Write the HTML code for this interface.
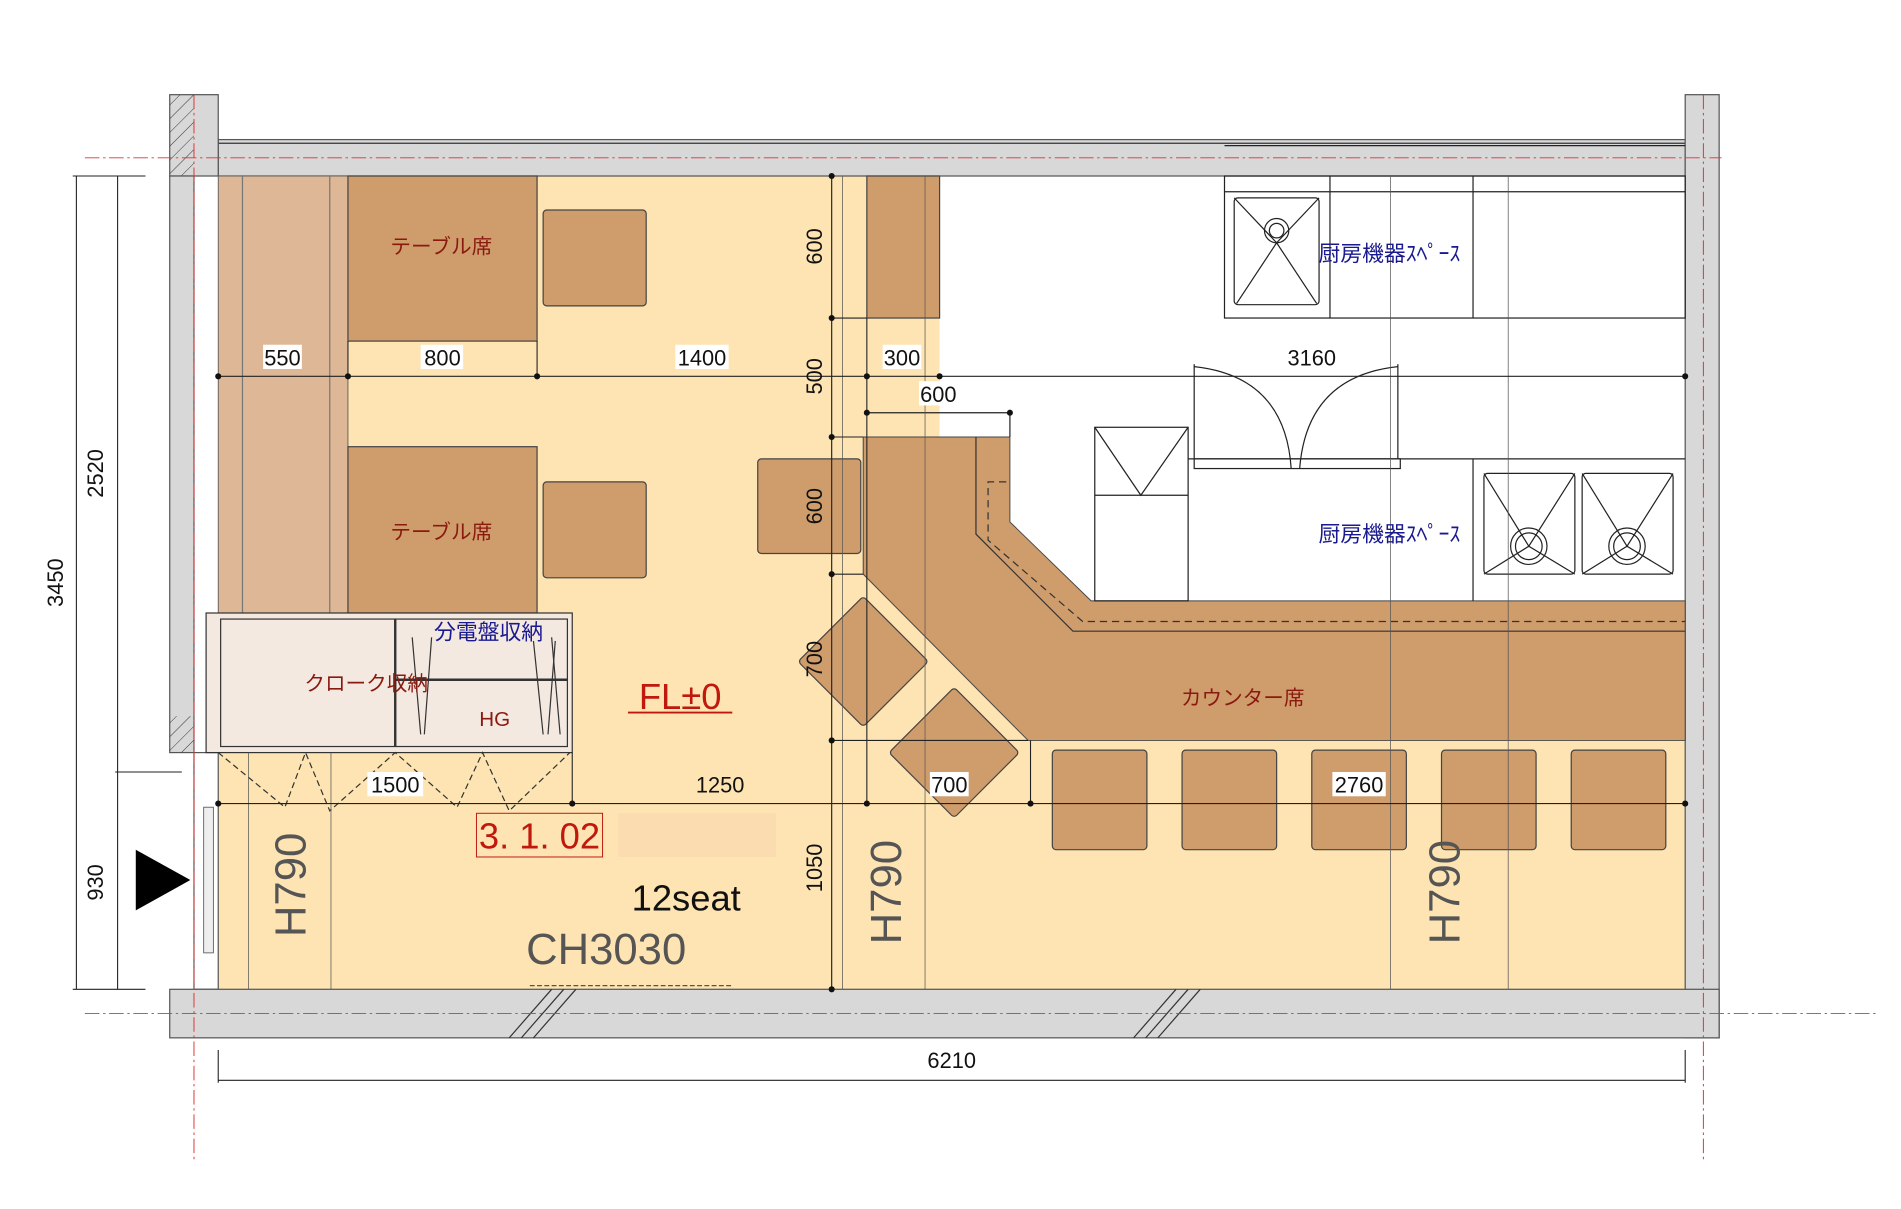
<!DOCTYPE html>
<html><head><meta charset="utf-8"><style>
html,body{margin:0;padding:0;background:#fff;}
svg{display:block;}
text{font-family:"Liberation Sans","Noto Sans CJK JP",sans-serif;}
</style></head><body>
<svg width="1901" height="1209" viewBox="0 0 1568 996" preserveAspectRatio="none" xmlns="http://www.w3.org/2000/svg">
<defs>
<pattern id="h" width="8" height="8" patternUnits="userSpaceOnUse" patternTransform="rotate(45)">
<line x1="0" y1="0" x2="0" y2="8" stroke="#333" stroke-width="0.8"/></pattern>
</defs>
<rect width="1568" height="996" fill="#fff"/>
<rect x="180" y="145" width="1210" height="670" fill="#fde4b2"/>
<polygon points="775,145 1390,145 1390,495 900,495 833,430 833,360 775,360" fill="#fff"/>
<rect x="180" y="115" width="1210" height="30" fill="#d8d8d8" stroke="#555" stroke-width="1"/>
<line x1="180" y1="118" x2="1390" y2="118" stroke="#333"/>
<rect x="140" y="78" width="40" height="67" fill="#d8d8d8" stroke="#555"/>
<rect x="140" y="78" width="20" height="67" fill="url(#h)"/>
<rect x="140" y="145" width="20" height="475" fill="#d8d8d8" stroke="#555"/>
<rect x="140" y="590" width="20" height="30" fill="url(#h)"/>
<rect x="160" y="620" width="20" height="195" fill="#fff" stroke="#555"/>
<rect x="168" y="665" width="8" height="120" fill="#eee" stroke="#555" stroke-width="0.7"/>
<rect x="1390" y="78" width="28" height="777" fill="#d8d8d8" stroke="#555"/>
<rect x="140" y="815" width="1278" height="40" fill="#d8d8d8" stroke="#555"/>
<line x1="420" y1="855" x2="455" y2="815" stroke="#333"/><line x1="430" y1="855" x2="465" y2="815" stroke="#333"/><line x1="440" y1="855" x2="475" y2="815" stroke="#333"/>
<line x1="935" y1="855" x2="970" y2="815" stroke="#333"/><line x1="945" y1="855" x2="980" y2="815" stroke="#333"/><line x1="955" y1="855" x2="990" y2="815" stroke="#333"/>
<g stroke="#d33" stroke-width="0.8" stroke-dasharray="12,3,2,3">
<line x1="70" y1="130" x2="1420" y2="130"/><line x1="70" y1="835" x2="1550" y2="835"/>
<line x1="160" y1="78" x2="160" y2="955"/><line x1="1405" y1="78" x2="1405" y2="955"/>
</g>
<rect x="180" y="145" width="107" height="360" fill="#ddb796" stroke="#555" stroke-width="0.7"/>
<line x1="200" y1="145" x2="200" y2="505" stroke="#777"/><line x1="272" y1="145" x2="272" y2="505" stroke="#777"/>
<g fill="#cf9c6c" stroke="#444" stroke-width="1">
<rect x="287" y="145" width="156" height="136"/><rect x="287" y="368" width="156" height="137"/>
<rect x="448" y="173" width="85" height="79" rx="3"/><rect x="448" y="397" width="85" height="79" rx="3"/>
<rect x="625" y="378" width="85" height="78" rx="3"/>
<rect x="715" y="145" width="60" height="117"/>
<polygon points="712,360 833,360 833,430 900,495 1390,495 1390,610 848,610 712,473" stroke-width="0.8"/>
<rect x="868" y="618" width="78" height="82" rx="3"/><rect x="975" y="618" width="78" height="82" rx="3"/>
<rect x="1082" y="618" width="78" height="82" rx="3"/><rect x="1189" y="618" width="78" height="82" rx="3"/>
<rect x="1296" y="618" width="78" height="82" rx="3"/>
<rect x="-38" y="-38" width="76" height="76" rx="3" transform="translate(712,545) rotate(45)"/>
<rect x="-38" y="-38" width="76" height="76" rx="3" transform="translate(787,620) rotate(45)"/>
</g>
<polyline points="805,360 805,440 885,520 1390,520" fill="none" stroke="#333"/>
<polyline points="830,397 815,397 815,445 893,512 1390,512" fill="none" stroke="#333" stroke-dasharray="6,4"/>
<line x1="715" y1="340" x2="833" y2="340" stroke="#222"/><line x1="833" y1="340" x2="833" y2="360" stroke="#222"/>
<g fill="none" stroke="#222" stroke-width="1">
<rect x="1010" y="145" width="380" height="117"/><line x1="1010" y1="158" x2="1390" y2="158"/>
<line x1="1097" y1="145" x2="1097" y2="262"/><line x1="1215" y1="145" x2="1215" y2="262"/>
<rect x="1018" y="163" width="70" height="88" rx="3"/>
<polyline points="1018,163 1053,200 1088,163"/><polyline points="1020,250 1053,200 1086,250"/>
<circle cx="1053" cy="190" r="10"/><circle cx="1053" cy="190" r="6"/>
<rect x="903" y="352" width="77" height="143"/><line x1="903" y1="408" x2="980" y2="408"/><polyline points="903,352 941,408 980,352"/>
<rect x="985" y="378" width="170" height="8"/>
<line x1="985" y1="300" x2="985" y2="378"/><path d="M985,302 Q1060,310 1065,386"/>
<line x1="1153" y1="300" x2="1153" y2="378"/><path d="M1153,302 Q1078,310 1072,386"/>
<polyline points="980,378 1390,378"/>
<line x1="1215" y1="378" x2="1215" y2="495"/>
<rect x="1224" y="390" width="75" height="83" rx="3"/><rect x="1305" y="390" width="75" height="83" rx="3"/>
<polyline points="1224,390 1261,450 1299,390"/><polyline points="1224,473 1261,450 1299,473"/>
<polyline points="1305,390 1342,450 1380,390"/><polyline points="1305,473 1342,450 1380,473"/>
<circle cx="1261" cy="450" r="15"/><circle cx="1261" cy="450" r="11"/>
<circle cx="1342" cy="450" r="15"/><circle cx="1342" cy="450" r="11"/>
<line x1="1010" y1="120" x2="1390" y2="120"/>
</g>
<rect x="170" y="505" width="302" height="115" fill="#f4e9e1" stroke="#333"/>
<rect x="182" y="510" width="286" height="105" fill="none" stroke="#333"/>
<line x1="326" y1="510" x2="326" y2="615" stroke="#333" stroke-width="2"/>
<line x1="326" y1="560" x2="468" y2="560" stroke="#333" stroke-width="2"/>
<g stroke="#333" fill="none"><line x1="340" y1="525" x2="347" y2="605"/><line x1="356" y1="525" x2="350" y2="605"/>
<line x1="440" y1="528" x2="448" y2="605"/><line x1="455" y1="525" x2="462" y2="605"/><line x1="458" y1="528" x2="452" y2="605"/>
<polyline stroke-dasharray="5,3" points="180,620 235,665 252,620 272,668 326,620 377,665 398,620 420,668 470,620"/></g>
<g stroke="#555" stroke-width="0.6">
<line x1="686" y1="145" x2="686" y2="815"/><line x1="695" y1="145" x2="695" y2="815"/>
<line x1="763" y1="145" x2="763" y2="815"/><line x1="1147" y1="145" x2="1147" y2="815"/><line x1="1244" y1="145" x2="1244" y2="815"/>
<line x1="205" y1="620" x2="205" y2="815"/><line x1="273" y1="620" x2="273" y2="815"/>
</g>
<g stroke="#222" stroke-width="0.9">
<line x1="178" y1="310" x2="1390" y2="310"/><line x1="178" y1="662" x2="1390" y2="662"/>
<line x1="686" y1="145" x2="686" y2="815"/>
<line x1="686" y1="262" x2="715" y2="262"/><line x1="686" y1="360" x2="712" y2="360"/><line x1="686" y1="473" x2="712" y2="473"/><line x1="686" y1="610" x2="848" y2="610"/>
<line x1="715" y1="262" x2="715" y2="662"/><line x1="850" y1="610" x2="850" y2="662"/><line x1="472" y1="620" x2="472" y2="662"/>
<line x1="443" y1="281" x2="443" y2="310"/><line x1="287" y1="281" x2="287" y2="310"/>
<line x1="180" y1="865" x2="180" y2="892"/><line x1="1390" y1="865" x2="1390" y2="892"/><line x1="180" y1="890" x2="1390" y2="890"/>
<line x1="63" y1="145" x2="63" y2="815"/><line x1="97" y1="145" x2="97" y2="815"/>
<line x1="60" y1="145" x2="120" y2="145"/><line x1="60" y1="815" x2="120" y2="815"/><line x1="95" y1="636" x2="150" y2="636"/>
</g>
<line x1="437" y1="812" x2="603" y2="812" stroke="#555" stroke-dasharray="4,2"/>
<g fill="#111"><circle cx="180" cy="310" r="2.5"/><circle cx="287" cy="310" r="2.5"/><circle cx="443" cy="310" r="2.5"/><circle cx="715" cy="310" r="2.5"/><circle cx="775" cy="310" r="2.5"/><circle cx="1390" cy="310" r="2.5"/>
<circle cx="686" cy="145" r="2.5"/><circle cx="686" cy="262" r="2.5"/><circle cx="686" cy="360" r="2.5"/><circle cx="686" cy="473" r="2.5"/><circle cx="686" cy="610" r="2.5"/><circle cx="686" cy="815" r="2.5"/>
<circle cx="180" cy="662" r="2.5"/><circle cx="472" cy="662" r="2.5"/><circle cx="715" cy="662" r="2.5"/><circle cx="850" cy="662" r="2.5"/><circle cx="1390" cy="662" r="2.5"/><circle cx="715" cy="340" r="2.5"/><circle cx="833" cy="340" r="2.5"/></g>
<polygon points="112,700 157,725 112,750" fill="#000"/>
<rect x="510" y="670" width="130" height="36" fill="#fbdcb0"/>
<g font-size="18" fill="#111" text-anchor="middle">
<rect x="217" y="284" width="32" height="20" fill="#fff"/><text x="233" y="301">550</text>
<rect x="347" y="284" width="35" height="20" fill="#fff"/><text x="365" y="301">800</text>
<rect x="557" y="284" width="44" height="20" fill="#fff"/><text x="579" y="301">1400</text>
<rect x="728" y="284" width="32" height="20" fill="#fff"/><text x="744" y="301">300</text>
<text x="1082" y="301">3160</text>
<rect x="758" y="314" width="32" height="20" fill="#fff"/><text x="774" y="331">600</text>
<rect x="303" y="636" width="46" height="20" fill="#fff"/><text x="326" y="653">1500</text>
<text x="594" y="653">1250</text>
<rect x="767" y="636" width="32" height="20" fill="#fff"/><text x="783" y="653">700</text>
<rect x="1099" y="636" width="44" height="20" fill="#fff"/><text x="1121" y="653">2760</text>
<text x="785" y="880">6210</text>
<text transform="translate(678,203) rotate(-90)">600</text>
<text transform="translate(678,310) rotate(-90)">500</text>
<text transform="translate(678,417) rotate(-90)">600</text>
<text transform="translate(678,543) rotate(-90)">700</text>
<text transform="translate(678,715) rotate(-90)">1050</text>
<text transform="translate(85,390) rotate(-90)">2520</text>
<text transform="translate(52,480) rotate(-90)">3450</text>
<text transform="translate(85,727) rotate(-90)">930</text>
</g>
<g font-size="17" fill="#8a1a10" text-anchor="middle">
<text x="364" y="209">テーブル席</text><text x="364" y="444">テーブル席</text>
<text x="302" y="569">クローク収納</text><text x="408" y="598">HG</text>
<text x="1025" y="581">カウンター席</text></g>
<g font-size="18" fill="#1a1a90" text-anchor="middle">
<text x="1146" y="215">厨房機器ｽﾍﾟｰｽ</text><text x="1146" y="446">厨房機器ｽﾍﾟｰｽ</text>
<text x="403" y="527">分電盤収納</text></g>
<text x="561" y="584" font-size="30" fill="#c0180c" text-anchor="middle">FL±0</text>
<line x1="518" y1="587" x2="604" y2="587" stroke="#c0180c" stroke-width="1.5"/>
<rect x="393" y="670" width="104" height="36" fill="#fde4b2" stroke="#c0180c" stroke-width="0.8"/>
<text x="445" y="699" font-size="30" fill="#c0180c" text-anchor="middle">3. 1. 02</text>
<text x="566" y="750" font-size="30" fill="#111" text-anchor="middle">12seat</text>
<text x="500" y="794" font-size="36" fill="#555" text-anchor="middle">CH3030</text>
<g font-size="36" fill="#555" text-anchor="middle">
<text transform="translate(252,729) rotate(-90)">H790</text>
<text transform="translate(743,735) rotate(-90)">H790</text>
<text transform="translate(1204,735) rotate(-90)">H790</text></g>
</svg>
</body></html>
